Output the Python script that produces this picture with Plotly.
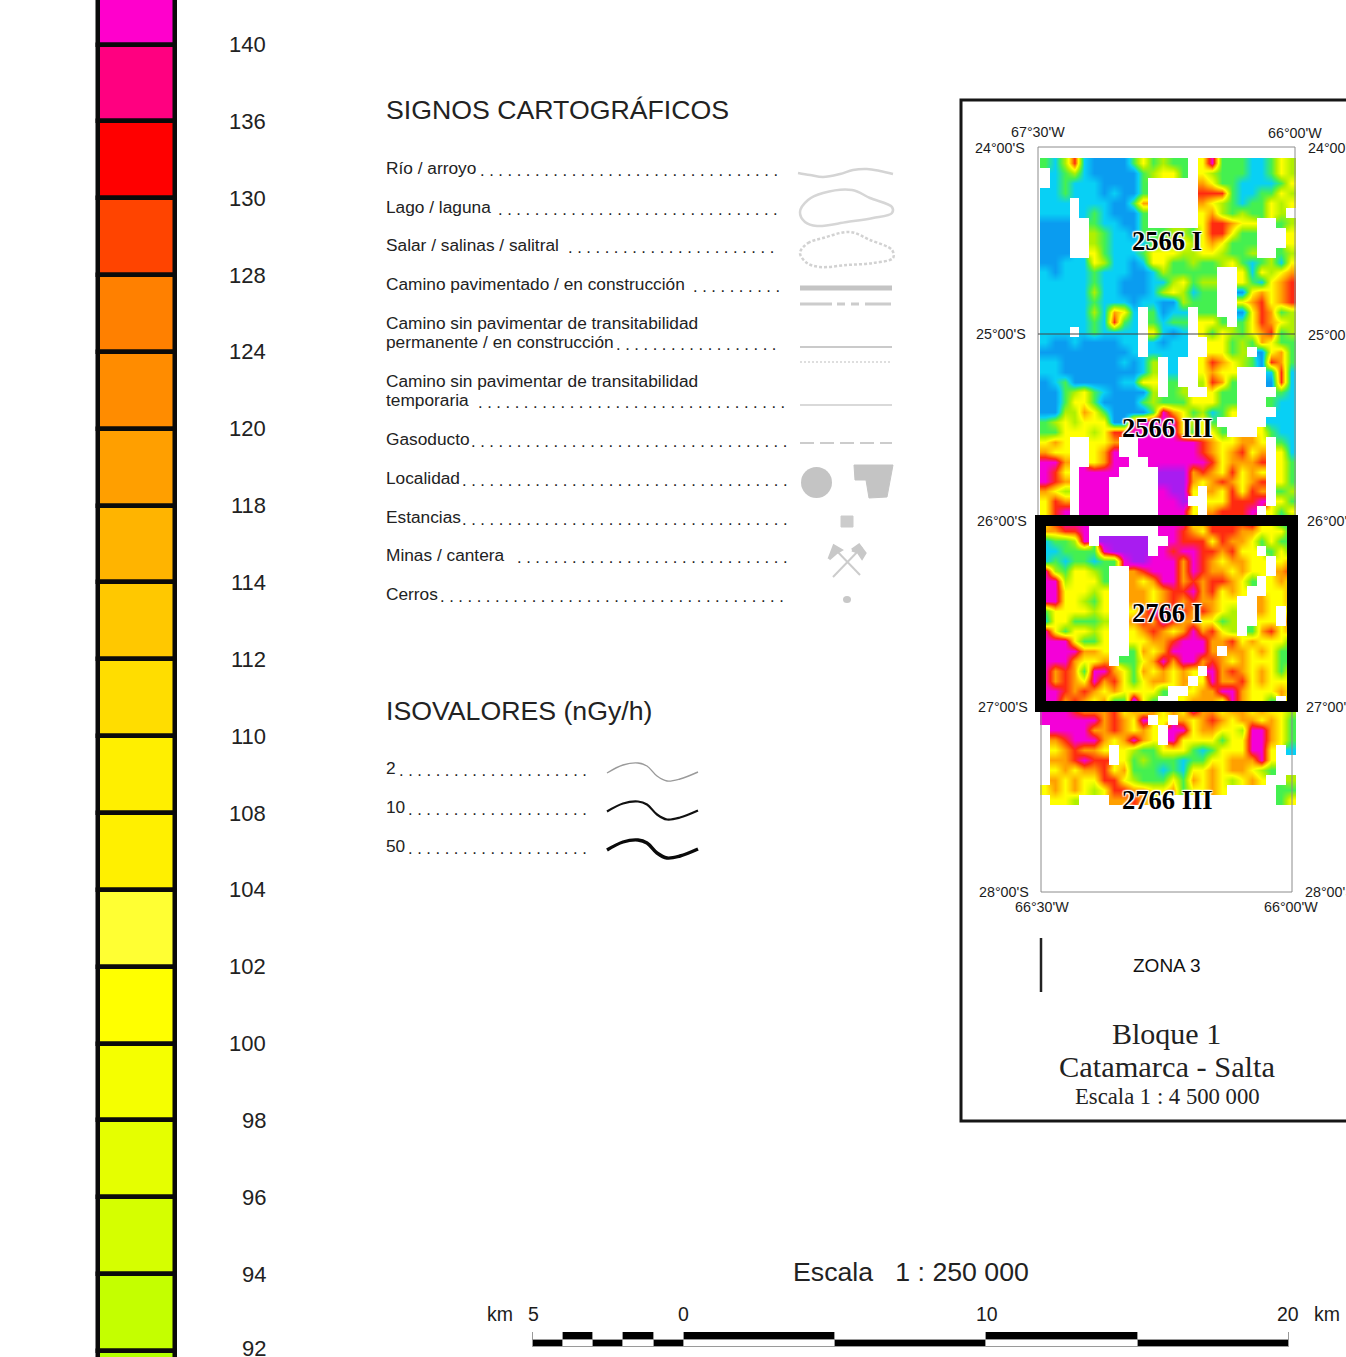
import plotly.graph_objects as go

W, H = 1346, 1357

# ---------- data ----------
class_labels = ["140","136","130","128","124","120","118","114","112","110","108","104","102","100","98","96","94","92"]
class_colors = ["#FF00CC","#FF0080","#FF0000","#FF4400","#FF8000","#FF8C00","#FF9F00","#FFB400","#FFC800","#FFDD00",
                "#FFEF00","#FFF000","#FFFF33","#FFFF00","#F5FF00","#E5FF00","#D5FF00","#C4FF00","#B4FF00"]

map_codes = "bcglyormv"
map_colors = ["#0A9CF0","#08D0F5","#44F050","#B0F000","#FFFF00","#FFA000","#FF2A10","#F400D8","#A81CF0"]
map_rows = [
"gclrc bbbbg yglgg .ymgg gccgy l",
".cglc bbbbb glyyg .ylgg gccgy l",
".cgcc cbbbb g.... .oygg ccccg y",
"ccgcc cbcbb g.... .rrrg ccggy l",
"ccc.c ccbbg o.... .oylg cggyl y",
"ccc.c gcbbb g.... .yolg lggyl .",
"bbb.. gccbb g.... .yrro yy..g l",
"bbb.. lgccb gggll gyrry gg... y",
"bbb.. lgccc cglly lyoyg gg... y",
"bbb.. ygccc gyyyl lyylg gl..g l",
"bbccc ylccb cyygg lggly gcglc y",
"cbccc gcccb bclgg ggg.. ycyly o",
"ccccc gccbb bccly gll.. ygcyo r",
"ccccc lccbb bclyl cgg.. byoyo r",
"ccccc gcccb ccbbl ggg.. yoryo r",
"ccccc lcoyc .gbcc .gg.. byrog l",
"ccccc gcrgc .gcgg .yyg. gyroy l",
"ccc.c gcccc .ycbc .ygyl gyorg l",
"cbbcb bbbcc .cbcc ..yyg lgoyg g",
"bbbbb bbbbc .cccc ..yyg l.byo g",
"ccbbb bbbcb cl.c. .yroy lgbro g",
"ccbbb bbbbb cl.c. .yoyy ...cr c",
"bcgbb bbbcc yy.g. .lrog ...br c",
"bbgly gcbbb bl.gl ..ygg ....g c",
"bbgyy gbbbb glggg yyygg ...gc c",
"bbllo ygbbb bgmoy glcgy ....c c",
"glyly yybbr mmmmy lyg.. ...cc c",
"ggyyy lyrrm mmmmy gyyg. ..ygc c",
"yoy.. yyo.. mmmmm mroyy ooy.g c",
"oyy.. yom.. mmmmm mroyo ryo.y c",
"mmo.. yomm. .mmmm mmryo oor.y g",
"mry.m mmm.. ..vvv oroyr yoy.y g",
"mro.m mm... ..vvv oyoro yor.y g",
"oyl.m mm... ..mvv y.oyr yro.g l",
"yro.m mm... ..mmv ..yyr rrm.y g",
"yrm.m mm... ..mmm y.orr rm.yg y",
"yrmmm mm... ..mmm yorrr rmyyc g",
"oorrm ..... ..mmr oyrrr ooyyy c",
"cgglm .vvvv v..mr rryro oygyg g",
"ccggg gmvvv v.mrm mrror yy.gy g",
"cgcgg cggmv vmmmo mroyo oyy.y o",
"mlgyy lg..o rmmmo mrooy oyy.o r",
"mmlyy yg..o yommo rorro yg.yo y",
"mmyyy ly..o oyorr moryo y..yy o",
"mmyyl gy..o oyoro rooyy ..oyy o",
"gyyyy ly..y ommrr oroyl ..oy. y",
"cyygg gl..o romro oyygl ..yy. o",
"mygyy ly..y oroyo moryl .gory o",
"mmmyg gy..y yoorm mmoor yoyyy g",
"mmmmo oy..g oyomm mmo.o oyoyg g",
"mmmoy yo.gg yomom moroy oyyyg g",
"morog mmoyg oyoyo y.mor oyoyg y",
"moroy moryg yooyo .ymoo ryoyy y",
"mmror oyoyy yyg.. yoomm oyyyo y",
"mmoro yoggv yg..y oooym oyyg. y",
"mmmro ooryo yoyoy mooyo oyoyy l",
"mmmmm moroy m.y.o yoroy ooyoy g",
".mmmm ooroy oy.mm yooyy lmmoy g",
".ormm moyom oy.my yyygy ymmoy g",
".yoro oy.yl ggyyy gcgyy ymmy. c",
".oorm rr.yg lgggc ggyyo oomy. .",
".yoyo oryog ggcgc yyoyo oylg. .",
".oyoy yrryl gggyg oyoyl yoy.. l",
"yoyoy lyrro oyyog yyoy. ....g g",
".yyl. ..oor oy... ..... ....g y",
]

km_starts  = [-5,-4,-3,-2,-1,0,5,10,15]
km_lengths = [1,1,1,1,1,5,5,5,5]
km_tick_values = ["5","0","10","20"]

legend_lines = ["Río / arroyo","Lago / laguna","Salar / salinas / salitral","Camino pavimentado / en construcción",
                "Camino sin pavimentar de transitabilidad","permanente / en construcción",
                "Camino sin pavimentar de transitabilidad","temporaria",
                "Gasoducto","Localidad","Estancias","Minas / cantera","Cerros"]
iso_labels = ["2","10","50"]
sheet_labels = ["2566 I","2566 III","2766 I","2766 III"]

# ---------- helpers ----------
fig = go.Figure()
anns, shapes = [], []
SANS = "Liberation Sans"; SERIF = "Liberation Serif"

def txt(x, y, s, size, anchor="left", family=SANS, color="#1c1c1c", **font):
    anns.append(dict(x=x, y=y, xref="x", yref="y", text=s, showarrow=False, xanchor=anchor, yanchor="middle",
                     align="left", borderpad=0, font=dict(size=size, family=family, color=color, **font)))

def line(xs, ys, color="#c8c8c8", width=2, dash="solid", shape="linear", fill=None):
    fig.add_trace(go.Scatter(x=xs, y=ys, mode="lines", hoverinfo="skip", showlegend=False,
                             line=dict(color=color, width=width, dash=dash, shape=shape, smoothing=1.0),
                             fill=fill, fillcolor=color if fill else None))

# ---------- pixel overlay for the page furniture ----------
fig.add_trace(go.Scatter(x=[0, W], y=[0, H], mode="markers", marker=dict(opacity=0), hoverinfo="skip", showlegend=False))

# ---------- colour strip ----------
STEP, Y0 = 76.85, 44.5
for i, c in enumerate(class_colors):
    fig.add_trace(go.Bar(x=[0], y=[1], base=[i - 1], width=1, marker=dict(color=c, line=dict(color="#0a0a0a", width=4.5)),
                         xaxis="x2", yaxis="y2", showlegend=False, hoverinfo="skip", cliponaxis=False))
for i, lab in enumerate(class_labels):
    txt(266.5, min(Y0 + i * STEP, 1348), lab, 22, "right", color="#222")

# ---------- map ----------
rows = [r.replace(" ", "") for r in map_rows]
z = [[map_codes.index(ch) if ch in map_codes else None for ch in r] for r in rows]
n = len(map_codes) - 1
cs = [[i / n, c] for i, c in enumerate(map_colors)]
fig.add_trace(go.Heatmap(z=z, xaxis="x4", yaxis="y4", colorscale=cs, zmin=0, zmax=n, showscale=False,
                         hoverinfo="skip", zsmooth="best"))

# ---------- km scale ----------
PX_KM = (1289 - 532.5) / 25.0
for row in (0, 1):
    cols = ["#fff" if (k + row) % 2 == 0 else "#000" for k in range(len(km_starts))]
    fig.add_trace(go.Bar(y=[row] * len(km_starts), x=km_lengths, base=km_starts, orientation="h", width=1,
                         marker=dict(color=cols, line=dict(color="#9a9a9a", width=1)),
                         xaxis="x3", yaxis="y3", showlegend=False, hoverinfo="skip"))

# ---------- text: legend ----------
txt(384.5, 110, "SIGNOS CARTOGRÁFICOS", 26.7, color="#222")
leg_y = [168, 207, 245, 284, 323, 342, 381, 400, 439, 478, 517, 555, 594]
for lab, y in zip(legend_lines, leg_y):
    txt(384.5, y, lab, 17.3, color="#222")
leader_n = [33, 31, 23, 10, 18, 34, 35, 36, 36, 30, 38]
leader_end = [779, 779, 775, 781, 777, 786, 788, 788, 788, 788, 785]
leader_y = [170, 209, 247, 286, 344, 402, 441, 480, 519, 557, 596]
for k, e, y in zip(leader_n, leader_end, leader_y):
    txt(e, y, " ".join(["."] * k), 16.5, "right", color="#222")

txt(384.5, 711, "ISOVALORES (nGy/h)", 26.7, color="#222")
for lab, y, k in zip(iso_labels, [768, 807, 846], [21, 20, 20]):
    txt(384.5, y, lab, 17.3, color="#222")
    txt(588, y + 2, " ".join(["."] * k), 16.5, "right", color="#222")

# ---------- legend glyphs ----------
line([798, 810, 823, 840, 853, 867, 880, 893], [173, 175, 177, 174, 170, 169, 171, 174], "#d4d4d4", 2.5, shape="spline")
lx = [800, 808, 823, 852, 870, 892, 892, 873, 847, 817, 805, 800]
ly = [212, 200, 193, 190, 198, 207, 213, 218, 222, 226, 222, 212]
line(lx, ly, "#d6d6d6", 2.5, shape="spline")
sx = [800, 808, 823, 850, 870, 892, 893, 873, 847, 820, 807, 800]
sy = [253, 243, 238, 232, 240, 250, 258, 263, 265, 267, 263, 253]
line(sx, sy, "#d2d2d2", 2.5, "3px,2px", shape="spline")
line([800, 892], [288, 288], "#c4c4c4", 5)
line([800, 892], [304, 304], "#cccccc", 3, "32px,5px,8px,6px,8px,6px,26px")
line([800, 892], [347, 347], "#cacaca", 2)
line([800, 892], [362, 362], "#d4d4d4", 1.5, "2px,2px")
line([800, 892], [405, 405], "#cccccc", 1.5)
line([800, 892], [443, 443], "#cccccc", 2, "14px,6px")
shapes.append(dict(type="circle", x0=801, x1=832, y0=467, y1=498, xref="x", yref="y", fillcolor="#c4c4c4", line_width=0))
line([854, 893, 887, 869, 866, 855, 854], [465, 465, 497, 498, 480, 480, 465], "#c4c4c4", 1, fill="toself")
line([841, 853, 853, 841, 841], [516, 516, 527, 527, 516], "#cccccc", 1, fill="toself")
line([833, 862], [577, 547], "#cccccc", 2)
line([860, 833], [575, 547], "#cccccc", 2)
line([829, 834, 841, 836, 829], [559, 546, 550, 553, 559], "#c8c8c8", 3, fill="toself")
line([852, 859, 865, 862, 858, 852], [550, 545, 553, 558, 552, 550], "#c8c8c8", 3, fill="toself")
shapes.append(dict(type="circle", x0=843, x1=851, y0=596, y1=603, xref="x", yref="y", fillcolor="#c8c8c8", line_width=0))

# ---------- isovalue samples ----------
cx = [607, 623, 638, 647, 657, 667, 680, 698]
cy = [773, 765, 763, 766, 776, 781, 779, 772]
for off, col, wd in ((0, "#9a9a9a", 1.4), (38.5, "#111", 2.2), (77, "#0a0a0a", 3.4)):
    line(cx, [v + off for v in cy], col, wd, shape="spline")

# ---------- inset frame and map outlines ----------
def rect(x0, y0, x1, y1, **kw):
    shapes.append(dict(type="rect", x0=x0, y0=y0, x1=x1, y1=y1, xref="x", yref="y", **kw))
shapes.append(dict(type="path", path="M 1370 100 L 961 100 L 961 1121 L 1370 1121", xref="x", yref="y",
                   line=dict(color="#161616", width=3)))
shapes.append(dict(type="path", path="M 1038 515 L 1038 147 L 1295 147 L 1295 515", xref="x", yref="y",
                   line=dict(color="#8c8c8c", width=1)))
shapes.append(dict(type="path", path="M 1041 712 L 1041 892 L 1292 892 L 1292 712", xref="x", yref="y",
                   line=dict(color="#8c8c8c", width=1)))
shapes.append(dict(type="line", x0=1038, x1=1295, y0=334, y1=334, xref="x", yref="y", line=dict(color="#444", width=1)))
rect(1040.5, 520.5, 1292.5, 706.5, line=dict(color="#000", width=11))
shapes.append(dict(type="line", x0=1041, x1=1041, y0=938, y1=992, xref="x", yref="y", line=dict(color="#222", width=2.5)))

# ---------- inset text ----------
halo = "1px 1px 1px #fff,-1px -1px 1px #fff,1px -1px 1px #fff,-1px 1px 1px #fff,0 0 3px #fff"
for lab, y in zip(sheet_labels, [241, 428, 613, 800]):
    txt(1167, y, lab, 26.5, "center", SERIF, "#000", weight="bold", shadow=halo)
C = 14.3
txt(1038, 132, "67°30'W", C, "center"); txt(1295, 133, "66°00'W", C, "center")
txt(1026, 148, "24°00'S", C, "right"); txt(1307, 148, "24°00'S", C)
txt(1027, 334, "25°00'S", C, "right"); txt(1307, 335, "25°00'S", C)
txt(1028, 521, "26°00'S", C, "right"); txt(1306, 521, "26°00'S", C)
txt(1029, 707, "27°00'S", C, "right"); txt(1305, 707, "27°00'S", C)
txt(1030, 892, "28°00'S", C, "right"); txt(1304, 892, "28°00'S", C)
txt(1042, 907, "66°30'W", C, "center"); txt(1291, 907, "66°00'W", C, "center")
txt(1167, 965, "ZONA 3", 19, "center", color="#111")
txt(1166, 1033, "Bloque 1", 30, "center", SERIF, "#222")
txt(1167, 1067, "Catamarca - Salta", 30.4, "center", SERIF, "#222")
txt(1167, 1096, "Escala 1 : 4 500 000", 22.7, "center", SERIF, "#222")

# ---------- scale text ----------
txt(911, 1272, "Escala  &nbsp;1 : 250 000", 26.7, "center", color="#222")
txt(486, 1314, "km", 19.5); txt(1313, 1314, "km", 19.5)
for lab, x in zip(km_tick_values, [533, 683, 987, 1288]):
    txt(x, 1314, lab, 19.5, "center")

hidden = dict(visible=False, showgrid=False, zeroline=False, fixedrange=True)
kmL = -5 - 532.5 / PX_KM
kmR = 20 + (W - 1289) / PX_KM
fig.update_layout(
    width=W, height=H, margin=dict(l=0, r=0, t=0, b=0), autosize=False,
    paper_bgcolor="#fff", plot_bgcolor="rgba(0,0,0,0)", showlegend=False, bargap=0,
    barmode="overlay",
    xaxis=dict(range=[0, W], domain=[0, 1], **hidden),
    yaxis=dict(range=[H, 0], domain=[0, 1], **hidden),
    xaxis2=dict(range=[-(136.5 - 88) / 77, (186 - 136.5) / 77], domain=[88 / W, 186 / W], anchor="y2", **hidden),
    yaxis2=dict(range=[(H - Y0) / STEP, -Y0 / STEP], domain=[0, 1], anchor="x2", **hidden),
    xaxis3=dict(range=[kmL, kmR], domain=[0, 1], anchor="y3", **hidden),
    yaxis3=dict(range=[1.5, -0.5], domain=[(H - 1347) / H, (H - 1332) / H], anchor="x3", **hidden),
    xaxis4=dict(range=[-0.5, 25.5], domain=[1040 / W, 1296 / W], anchor="y4", **hidden),
    yaxis4=dict(range=[64.5, -0.5], domain=[(H - 805) / H, (H - 158) / H], anchor="x4", **hidden),
    annotations=anns, shapes=shapes,
)
fig.write_html("out.html", config=dict(displayModeBar=False),
               post_script="document.body.style.margin='0';document.documentElement.style.overflow='hidden';")
